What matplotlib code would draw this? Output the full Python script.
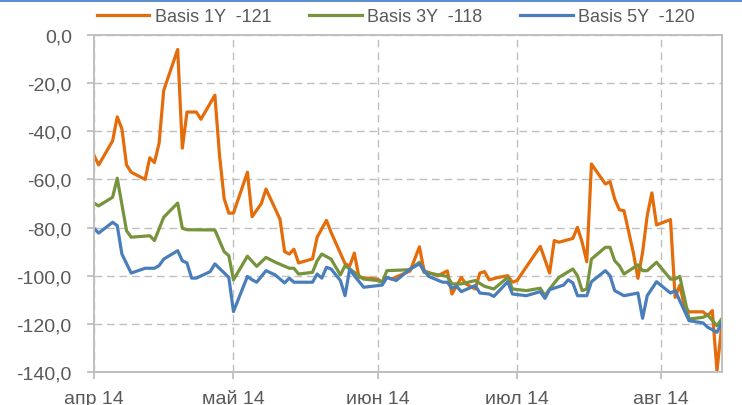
import matplotlib
matplotlib.use("Agg")
import matplotlib.pyplot as plt
import matplotlib.dates as mdates
import matplotlib.ticker as mticker
import pandas as pd
from matplotlib.patches import Rectangle

plt.rcParams['font.family'] = ['Liberation Sans', 'DejaVu Sans']

# --- data (month-day of 2014, basis values) ---
orange_dates = ["04-01", "04-02", "04-05", "04-06", "04-07", "04-08", "04-09", "04-12", "04-13", "04-14",
                "04-15", "04-16", "04-19", "04-20", "04-21", "04-23", "04-24", "04-27", "04-28", "04-29",
                "04-30", "05-01", "05-04", "05-05", "05-07", "05-08", "05-11", "05-12", "05-13", "05-14",
                "05-15", "05-18", "05-19", "05-21", "05-22", "05-25", "05-26", "05-27", "05-28", "06-01",
                "06-02", "06-03", "06-04", "06-08", "06-10", "06-11", "06-14", "06-16", "06-17", "06-19",
                "06-20", "06-22", "06-23", "06-24", "06-25", "06-27", "06-29", "06-30", "07-01", "07-06",
                "07-08", "07-09", "07-10", "07-13", "07-14", "07-15", "07-16", "07-17", "07-20", "07-21",
                "07-22", "07-23", "07-24", "07-26", "07-27", "07-28", "07-29", "07-30", "07-31", "08-03",
                "08-04", "08-05", "08-06", "08-07", "08-10", "08-11", "08-12", "08-13", "08-14"]
basis_1y = [-50, -54, -44, -34, -39, -54, -57, -60, -51, -53,
            -45, -23, -6, -47, -32, -32, -35, -25, -50, -68,
            -74, -74, -57, -75.5, -70, -64, -76.5, -90, -91, -89,
            -94.7, -93, -84, -77, -82, -95, -96, -90.6, -100.7, -101.4,
            -102.7, -100.7, -101.4, -98, -88, -98, -100, -98, -107.6, -100.7,
            -103.4, -105.5, -98.9, -98.3, -101.7, -100.7, -100, -102.7, -102, -87.8,
            -98.9, -85.4, -86.1, -84.5, -79.9, -86.1, -94.2, -53.6, -61.9, -60.9,
            -68.1, -72.6, -73, -90.3, -101.1, -90.3, -75, -65.6, -78.9, -76.7,
            -109, -104, -112.5, -115, -115, -116.6, -114.5, -139.5, -121]

green_dates = ["04-01", "04-02", "04-05", "04-06", "04-08", "04-09", "04-13", "04-14", "04-16", "04-19",
               "04-20", "04-21", "04-27", "04-29", "04-30", "05-01", "05-04", "05-06", "05-08", "05-10",
               "05-13", "05-14", "05-15", "05-18", "05-19", "05-20", "05-22", "05-24", "05-25", "05-27",
               "05-29", "06-01", "06-02", "06-03", "06-08", "06-10", "06-11", "06-16", "06-17", "06-19",
               "06-22", "06-24", "06-26", "06-29", "06-30", "07-03", "07-06", "07-07", "07-08", "07-10",
               "07-13", "07-14", "07-15", "07-16", "07-17", "07-20", "07-21", "07-22", "07-23", "07-24",
               "07-27", "07-28", "07-29", "07-31", "08-03", "08-04", "08-05", "08-07", "08-10", "08-11",
               "08-13", "08-14"]
basis_3y = [-69.8, -71, -67.4, -59.5, -81.3, -84, -83.4, -85.4, -75.7, -69.8,
            -80.3, -80.9, -81, -90, -91.7, -101.7, -91.9, -96.1, -92.4, -94.4,
            -96.9, -96.9, -99.3, -98.6, -93.8, -91, -93.1, -99.7, -95.8, -98.6,
            -101.4, -102, -102.7, -97.9, -97.5, -94.4, -98.6, -100.3, -103.4, -103.4,
            -102, -104.4, -105.5, -100.7, -105.5, -106.2, -105.2, -108.3, -105.5, -100.7,
            -97.2, -100, -106.2, -105.5, -93.1, -88.2, -88.2, -93.8, -95.8, -99.3,
            -95.5, -97.9, -97.9, -94.4, -101.4, -101.4, -100.3, -118, -117.3, -116.3,
            -120.8, -118]

blue_dates = ["04-01", "04-02", "04-05", "04-06", "04-07", "04-09", "04-12", "04-14", "04-15", "04-16",
              "04-19", "04-20", "04-21", "04-22", "04-23", "04-26", "04-27", "04-30", "05-01", "05-04",
              "05-05", "05-06", "05-08", "05-10", "05-12", "05-13", "05-14", "05-18", "05-19", "05-20",
              "05-21", "05-22", "05-24", "05-25", "05-26", "05-27", "05-29", "06-02", "06-03", "06-05",
              "06-08", "06-10", "06-12", "06-15", "06-16", "06-17", "06-18", "06-19", "06-22", "06-23",
              "06-25", "06-26", "06-29", "06-30", "07-03", "07-06", "07-07", "07-08", "07-11", "07-12",
              "07-13", "07-14", "07-16", "07-17", "07-20", "07-21", "07-22", "07-24", "07-27", "07-28",
              "07-29", "07-31", "08-03", "08-04", "08-05", "08-07", "08-10", "08-11", "08-13", "08-14"]
basis_5y = [-80.3, -82.3, -77.8, -79.2, -91, -98.9, -96.9, -96.9, -95.8, -93.1,
            -89.6, -93.8, -94.7, -101, -101, -98.3, -95.1, -100.7, -114.9, -100.3,
            -101.7, -102.7, -97.9, -99.7, -103, -101, -102.7, -102.7, -99.3, -101,
            -96.5, -97.2, -102, -108.3, -97.2, -100, -104.8, -103.9, -100.7, -102,
            -97.2, -95.1, -100.3, -102.7, -102.7, -105.2, -104.4, -106.6, -104.1, -107.2,
            -107.6, -108.6, -102.5, -107.6, -108.3, -106.6, -109.4, -105.8, -103.9, -101.7,
            -103, -108.3, -108.3, -102.5, -97.9, -100, -106.2, -108.3, -107.2, -117.7,
            -108.3, -102.5, -107.2, -106.2, -110.4, -118.7, -119.6, -121.4, -123.5, -119.6]

labels = ["Basis 1Y  -121", "Basis 3Y  -118", "Basis 5Y  -120"]
colors = ["#E46C0A", "#77933C", "#4A7EBB"]
month_names = {4: "апр", 5: "май", 6: "июн", 7: "июл", 8: "авг"}

series = [(orange_dates, basis_1y), (green_dates, basis_3y), (blue_dates, basis_5y)]

fig = plt.figure(figsize=(7.42, 4.06), dpi=100)
ax = fig.add_axes([94 / 742, 1 - 373 / 406, 628 / 742, 337 / 406])

for (d, v), lab, c in zip(series, labels, colors):
    x = pd.to_datetime(["2014-" + s for s in d])
    ax.plot(x, v, color=c, lw=2.3, label=lab, solid_joinstyle='round')

ax.set_ylim(-140, 0)
ax.set_xlim(pd.Timestamp("2014-04-01"), pd.Timestamp("2014-08-14 02:00"))
ax.yaxis.set_major_locator(mticker.MultipleLocator(20))
ax.yaxis.set_major_formatter(mticker.FuncFormatter(lambda v, p: f"{v:.1f}".replace(".", ",")))
ax.xaxis.set_major_locator(mdates.MonthLocator())
ax.xaxis.set_major_formatter(mticker.FuncFormatter(
    lambda v, p: month_names.get(mdates.num2date(v).month, "") + " 14"))

ax.grid(True, color="#BFBFBF", linestyle=(0, (5.5, 3.5)), linewidth=1.0)
ax.set_axisbelow(True)
for s in ax.spines.values():
    s.set_color("#BFBFBF")
    s.set_linewidth(1.4)
ax.tick_params(axis="both", colors="#BFBFBF", length=5, width=1.3, labelcolor="#595959", labelsize=14)
ax.tick_params(axis="y", pad=11)
ax.tick_params(axis="x", pad=8)

fig.legend(loc="center", bbox_to_anchor=(396 / 742, 1 - 18 / 406), ncol=3, frameon=False,
           fontsize=13, handlelength=2.9, handletextpad=0.3, columnspacing=2.1,
           labelcolor="#595959")

fig.add_artist(Rectangle((0, 1 - 3 / 406), 1, 3 / 406, transform=fig.transFigure,
                         color="#5B8FD0", lw=0))

fig.savefig("out.png", dpi=100)
